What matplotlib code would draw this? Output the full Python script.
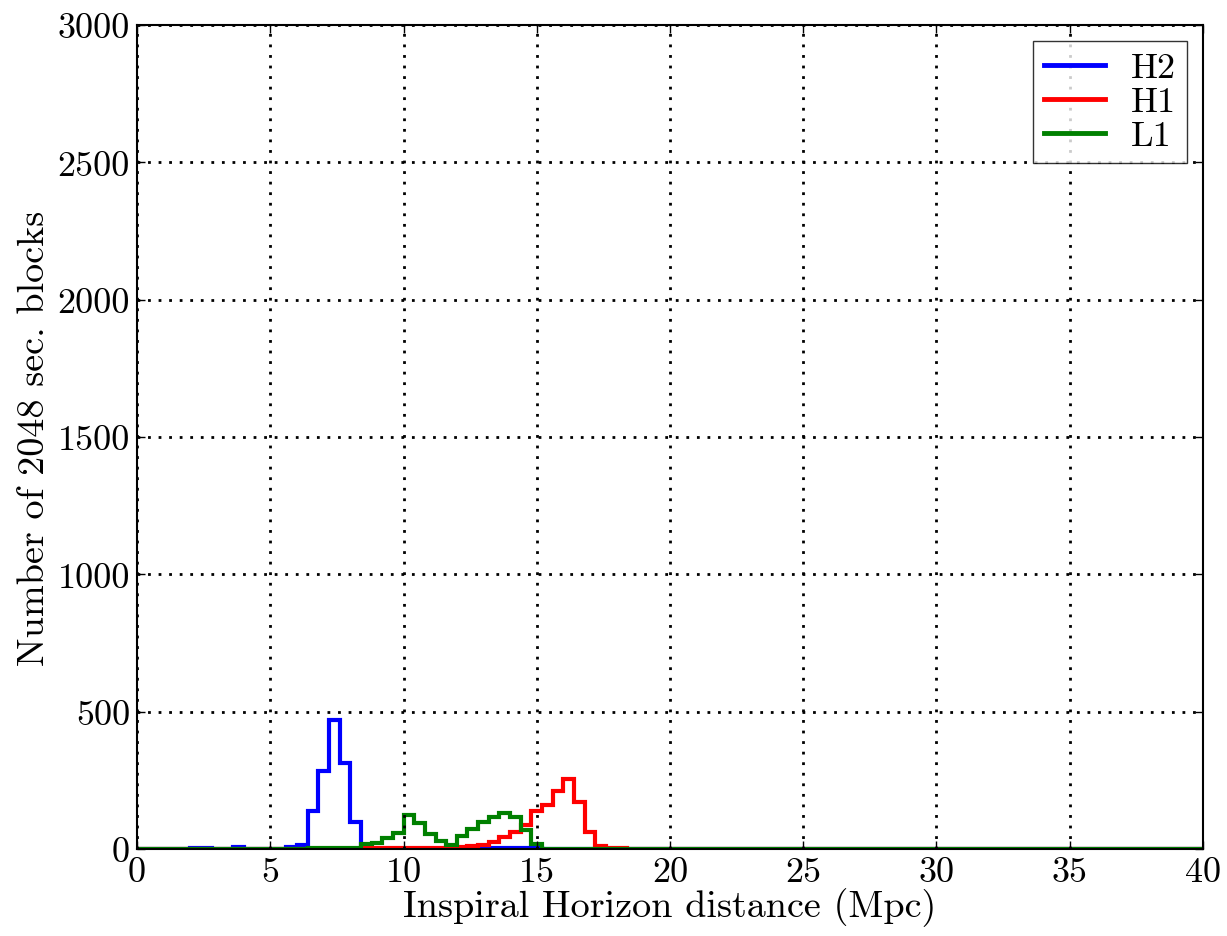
import numpy as np
import matplotlib
matplotlib.use("Agg")
import matplotlib.pyplot as plt

plt.rcParams['font.family'] = 'serif'
plt.rcParams['font.serif'] = ['cmr10']
plt.rcParams['mathtext.fontset'] = 'cm'
plt.rcParams['axes.unicode_minus'] = False

# bin edges: 0 .. 40 Mpc in 0.4 Mpc steps (100 bins)
edges = np.linspace(0, 40, 101)

h2 = [0, 0, 0, 0, 1, 2, 3, 1, 0, 9,
      0, 0, 0, 1, 7, 14, 140, 285, 470, 313,
      97, 0, 0, 0, 0, 0, 0, 0, 0, 0,
      0, 0, 2, 2, 2, 2, 2, 2, 0, 0] + [0] * 60

h1 = [0] * 20 + [
      0, 2, 2, 2, 2, 2, 2, 2, 4, 5,
      8, 10, 15, 27, 45, 63, 87, 138, 162, 212,
      255, 173, 61, 10, 5, 2, 1, 1, 1, 1] + [0] * 50

l1 = [0] * 10 + [
      0, 0, 0, 0, 0, 0, 2, 2, 2, 2,
      2, 18, 22, 40, 57, 125, 95, 55, 30, 15,
      49, 72, 100, 116, 131, 116, 70, 20, 1, 1] + [1] * 60

labels = ['H2', 'H1', 'L1']
colors = ['blue', 'red', 'green']

fig = plt.figure(figsize=(12.27, 9.37), dpi=100)
ax = fig.add_axes([0.1117, 0.0928, 0.9804 - 0.1117, 0.9723 - 0.0928])

for counts, lab, col in zip([h2, h1, l1], labels, colors):
    ax.stairs(counts, edges, color=col, linewidth=3, label=lab)

ax.set_xlim(0, 40)
ax.set_ylim(0, 3000)
ax.set_xticks(np.arange(0, 41, 5))
ax.set_yticks(np.arange(0, 3001, 500))
ax.grid(True, color='black', linestyle=(0, (1, 2.8)), linewidth=2)
ax.tick_params(direction='in', top=True, right=True, length=6, width=1,
               labelsize=26, pad=5)
for s in ax.spines.values():
    s.set_linewidth(1.5)

ax.set_xlabel('Inspiral Horizon distance (Mpc)', fontsize=27.5, labelpad=0)
ax.set_ylabel('Number of 2048 sec. blocks', fontsize=27.5, labelpad=5)

leg = ax.legend(loc='upper right', fontsize=26, fancybox=False,
                edgecolor='black', handlelength=1.7, labelspacing=0.05,
                borderpad=0.3, handletextpad=0.7, borderaxespad=0.45)
leg.get_frame().set_linewidth(1)
for line in leg.get_lines():
    line.set_linewidth(3.5)

fig.savefig('out.png', dpi=100)
